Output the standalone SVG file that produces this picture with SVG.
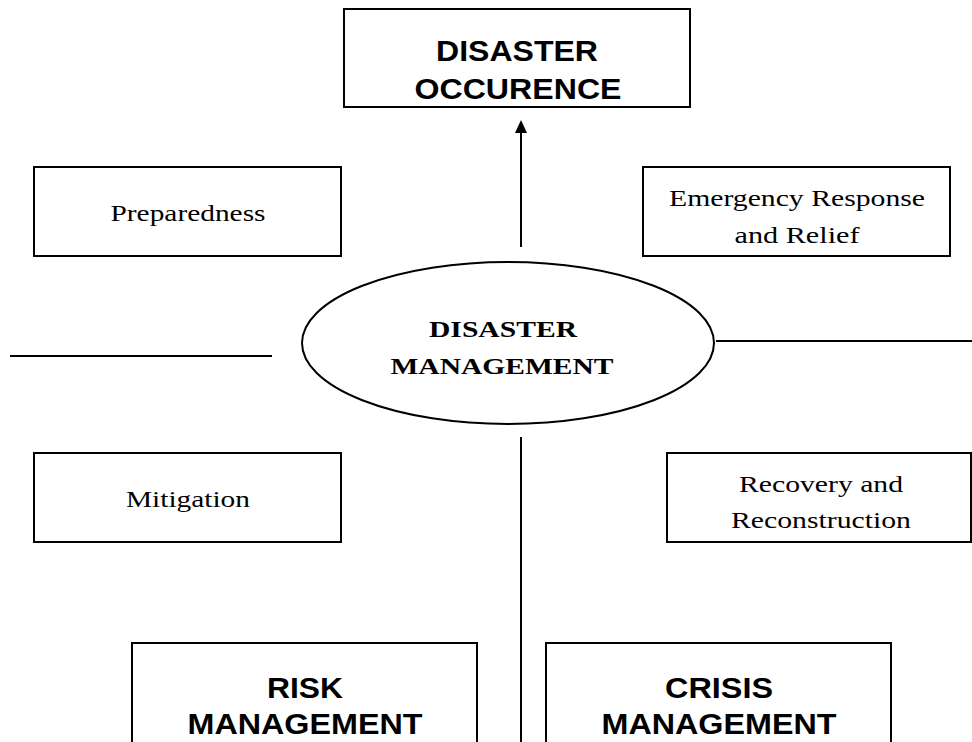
<svg xmlns="http://www.w3.org/2000/svg" width="972" height="742" viewBox="0 0 972 742">
<style>
.box{fill:#fff;stroke:#000;stroke-width:2}
.ln{stroke:#000;stroke-width:2;fill:none}
.hb{font-family:"Liberation Sans",Arial,sans-serif;font-weight:bold;font-size:29px;text-anchor:middle;fill:#000}
.sr{font-family:"Liberation Serif","Times New Roman",serif;font-size:24px;text-anchor:middle;fill:#000}
.sb{font-family:"Liberation Serif","Times New Roman",serif;font-weight:bold;font-size:24px;text-anchor:middle;fill:#000}
</style>
<rect width="972" height="742" fill="#fff"/>
<g id="connectors">
<line class="ln" x1="521" y1="247" x2="521" y2="133"/>
<path d="M515,133 L521,120 L527,133 Z" fill="#000"/>
<line class="ln" x1="10" y1="356" x2="272" y2="356"/>
<line class="ln" x1="716" y1="341" x2="972" y2="341"/>
<line class="ln" x1="521" y1="437" x2="521" y2="742"/>
</g>
<g id="occurrence">
<rect class="box" x="344" y="9" width="346" height="98"/>
<text class="hb" x="517" y="61" textLength="162" lengthAdjust="spacingAndGlyphs">DISASTER</text>
<text class="hb" x="518" y="99" textLength="207" lengthAdjust="spacingAndGlyphs">OCCURENCE</text>
</g>
<g id="preparedness">
<rect class="box" x="34" y="167" width="307" height="89"/>
<text class="sr" x="188" y="221" textLength="155" lengthAdjust="spacingAndGlyphs">Preparedness</text>
</g>
<g id="emergency">
<rect class="box" x="643" y="167" width="307" height="89"/>
<text class="sr" x="797" y="206" textLength="256" lengthAdjust="spacingAndGlyphs">Emergency Response</text>
<text class="sr" x="797" y="243" textLength="125" lengthAdjust="spacingAndGlyphs">and Relief</text>
</g>
<g id="management">
<ellipse cx="508" cy="343" rx="206" ry="81" class="ln" fill="#fff" stroke-width="1.5"/>
<text class="sb" x="503" y="337" textLength="148" lengthAdjust="spacingAndGlyphs">DISASTER</text>
<text class="sb" x="502" y="374" textLength="223" lengthAdjust="spacingAndGlyphs">MANAGEMENT</text>
</g>
<g id="mitigation">
<rect class="box" x="34" y="453" width="307" height="89"/>
<text class="sr" x="188" y="507" textLength="124" lengthAdjust="spacingAndGlyphs">Mitigation</text>
</g>
<g id="recovery">
<rect class="box" x="667" y="453" width="304" height="89"/>
<text class="sr" x="821" y="492" textLength="164" lengthAdjust="spacingAndGlyphs">Recovery and</text>
<text class="sr" x="821" y="528" textLength="180" lengthAdjust="spacingAndGlyphs">Reconstruction</text>
</g>
<g id="risk">
<rect class="box" x="132" y="643" width="345" height="110"/>
<text class="hb" x="305" y="698" textLength="76" lengthAdjust="spacingAndGlyphs">RISK</text>
<text class="hb" x="305" y="734" textLength="235" lengthAdjust="spacingAndGlyphs">MANAGEMENT</text>
</g>
<g id="crisis">
<rect class="box" x="546" y="643" width="345" height="110"/>
<text class="hb" x="719" y="698" textLength="108" lengthAdjust="spacingAndGlyphs">CRISIS</text>
<text class="hb" x="719" y="734" textLength="235" lengthAdjust="spacingAndGlyphs">MANAGEMENT</text>
</g>
</svg>
